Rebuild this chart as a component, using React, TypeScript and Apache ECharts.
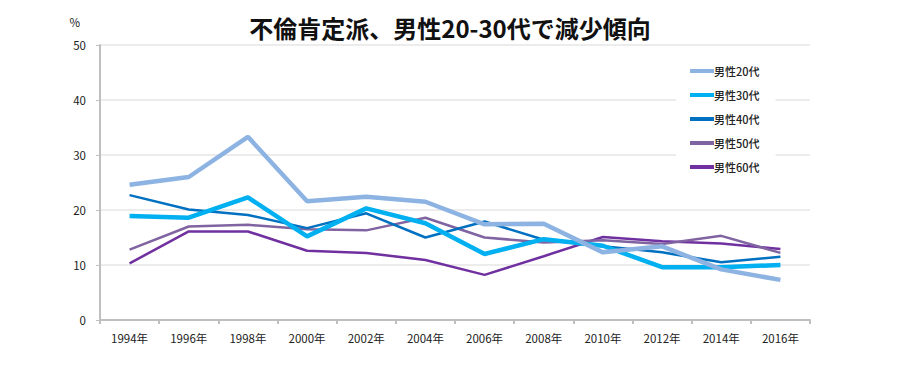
import React, { useEffect, useRef } from "react";
import * as echarts from "echarts";

const categories = ["1994年", "1996年", "1998年", "2000年", "2002年", "2004年", "2006年", "2008年", "2010年", "2012年", "2014年", "2016年"];
const male20 = [24.6, 26.0, 33.3, 21.6, 22.4, 21.5, 17.4, 17.5, 12.3, 13.4, 9.2, 7.3];
const male30 = [18.9, 18.6, 22.3, 15.2, 20.3, 17.6, 12.0, 14.7, 13.5, 9.6, 9.6, 10.0];
const male40 = [22.7, 20.1, 19.1, 16.7, 19.4, 15.0, 17.9, 14.6, 13.4, 12.3, 10.5, 11.5];
const male50 = [12.8, 17.0, 17.3, 16.5, 16.3, 18.6, 15.0, 14.1, 14.5, 13.8, 15.3, 12.2];
const male60 = [10.3, 16.1, 16.1, 12.6, 12.2, 10.9, 8.2, 11.6, 15.1, 14.3, 13.9, 12.9];
const seriesNames = ["男性20代", "男性30代", "男性40代", "男性50代", "男性60代"];
const yTicks = [0, 10, 20, 30, 40, 50];

const FONT = "'Noto Sans CJK JP', 'Noto Sans', sans-serif";

export default function App() {
  const ref = useRef<HTMLDivElement>(null);
  useEffect(() => {
    if (!ref.current) return;
    const chart = echarts.init(ref.current, null, { renderer: "svg" });
    const datasets = [male20, male30, male40, male50, male60];
    const colors = ["#8DB3E2", "#00B0F0", "#0070C0", "#8064A2", "#7030A0"];
    const widths = [4.5, 4.5, 2.5, 2.5, 2.5];
    chart.setOption({
      animation: false,
      backgroundColor: "#ffffff",
      textStyle: { fontFamily: FONT },
      title: {
        text: "不倫肯定派、男性20-30代で減少傾向",
        left: "center",
        top: 10,
        textStyle: { fontSize: 24, fontWeight: "bold", color: "#111", fontFamily: FONT },
      },
      legend: {
        orient: "vertical",
        left: 676,
        top: 58,
        itemGap: 10,
        itemWidth: 24,
        itemHeight: 4,
        backgroundColor: "#ffffff",
        padding: [6, 16, 6, 14],
        icon: "rect",
        data: seriesNames,
        textStyle: { fontSize: 11, color: "#222", fontWeight: 500, fontFamily: FONT, padding: [0, 0, 0, -5], lineHeight: 14, height: 14 },
      },
      grid: { left: 100, right: 90, top: 45, bottom: 69, containLabel: false },
      xAxis: {
        type: "category",
        data: categories,
        boundaryGap: true,
        axisLine: { lineStyle: { color: "#BFBFBF", width: 2 } },
        axisTick: { show: true, length: 4, lineStyle: { color: "#BFBFBF", width: 2 } },
        axisLabel: { fontSize: 11.5, color: "#222", margin: 12, fontFamily: FONT },
      },
      yAxis: {
        type: "value",
        min: 0,
        max: 50,
        interval: 10,
        name: "%",
        nameLocation: "end",
        nameGap: 17,
        nameTextStyle: { fontSize: 11.5, color: "#222", align: "right", padding: [0, 20, 0, 0] },
        axisLine: { show: true, lineStyle: { color: "#BFBFBF", width: 2 } },
        axisTick: { show: true, length: 4, lineStyle: { color: "#BFBFBF" } },
        axisLabel: {
          fontSize: 11.5,
          color: "#222",
          margin: 14,
          fontFamily: FONT,
          formatter: (v: number) => (yTicks.includes(v) ? String(v) : ""),
        },
        splitLine: { lineStyle: { color: "#E6E6E6", width: 1.5 } },
      },
      series: datasets.map((d, i) => ({
        name: seriesNames[i],
        type: "line",
        data: d,
        symbol: "none",
        color: colors[i],
        lineStyle: { color: colors[i], width: widths[i] },
        z: 5 - i,
      })),
    });
    return () => chart.dispose();
  }, []);
  return <div ref={ref} style={{ width: 900, height: 389, position: "absolute", left: 0, top: 0 }} />;
}
